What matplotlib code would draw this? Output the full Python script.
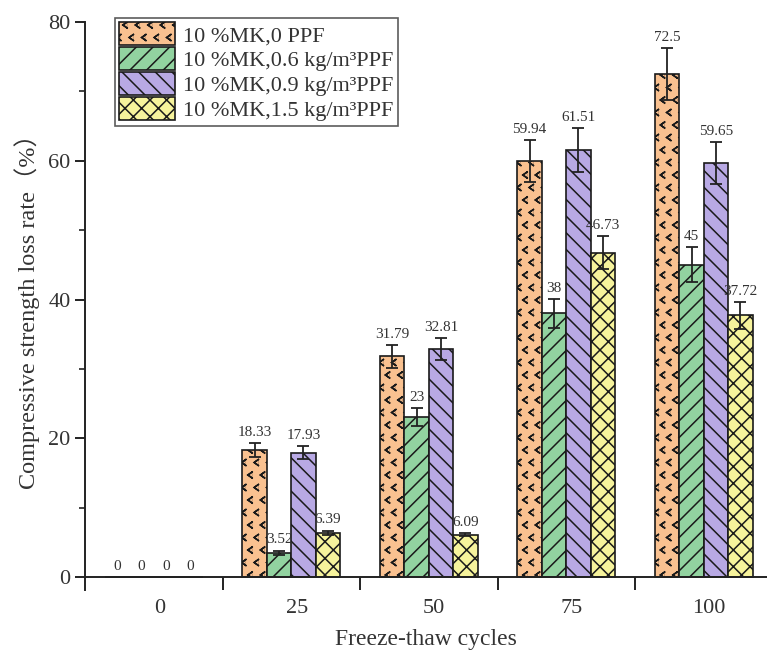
import numpy as np
import matplotlib
matplotlib.use('Agg')
import matplotlib.pyplot as plt
import matplotlib.hatch as mhatch
from matplotlib.path import Path
from matplotlib.ticker import FixedLocator, MultipleLocator

# data
cycles = ['0', '25', '50', '75', '100']
series = ['10 %MK,0 PPF', '10 %MK,0.6 kg/m³PPF',
          '10 %MK,0.9 kg/m³PPF', '10 %MK,1.5 kg/m³PPF']
loss_0 = [0, 18.33, 31.79, 59.94, 72.5]
loss_06 = [0, 3.52, 23, 38, 45]
loss_09 = [0, 17.93, 32.81, 61.51, 59.65]
loss_15 = [0, 6.39, 6.09, 46.73, 37.72]
err_0 = [0, 1.0, 1.6, 3.0, 3.8]
err_06 = [0, 0.3, 1.3, 2.1, 2.5]
err_09 = [0, 0.9, 1.6, 3.2, 3.0]
err_15 = [0, 0.3, 0.2, 2.4, 1.9]
labels_0 = ['0', '18.33', '31.79', '59.94', '72.5']
labels_06 = ['0', '3.52', '23', '38', '45']
labels_09 = ['0', '17.93', '32.81', '61.51', '59.65']
labels_15 = ['0', '6.39', '6.09', '46.73', '37.72']

colors = ['#F9C190', '#92D3A0', '#B8A9E4', '#F6F39C']
hatches = ['O', '//', '\\\\', 'xx']


# small "<" marks in place of the big circles hatch
class ChevronHatch(mhatch.Shapes):
    size = 0.5
    filled = False

    def __init__(self, hatch, density):
        self.num_rows = hatch.count('O') * 8
        self.shape_vertices = np.array([[0.35, 0.5], [-0.35, 0.0], [0.35, -0.5]])
        self.shape_codes = np.array([Path.MOVETO, Path.LINETO, Path.LINETO],
                                    dtype=Path.code_type)
        super().__init__(hatch, density)


i_big = mhatch._hatch_types.index(mhatch.LargeCircles)
mhatch._hatch_types[i_big] = ChevronHatch

plt.rcParams['font.family'] = ['Liberation Serif', 'Noto Sans CJK SC']
plt.rcParams['hatch.linewidth'] = 1.1
plt.rcParams['text.color'] = '#333333'

fig = plt.figure(figsize=(7.67, 6.6), dpi=100)
ax = fig.add_axes([85/767, 1 - 590/660, 1 - 85/767, (590 - 22)/660])

x = np.arange(len(cycles))
w = 0.178
all_vals = [loss_0, loss_06, loss_09, loss_15]
all_errs = [err_0, err_06, err_09, err_15]
all_labels = [labels_0, labels_06, labels_09, labels_15]

for j in range(4):
    pos = x + (j - 1.5)*w
    ax.bar(pos, all_vals[j], width=w, color=colors[j], edgecolor='#1a1a1a',
           linewidth=1.2, hatch=hatches[j], label=series[j], zorder=2)
    ax.errorbar(pos, all_vals[j], yerr=all_errs[j], fmt='none', ecolor='#222222',
                elinewidth=1.3, capsize=4.5, capthick=1.3, zorder=3)
    for k in range(len(cycles)):
        ax.annotate(all_labels[j][k], (pos[k], all_vals[j][k] + all_errs[j][k]),
                    xytext=(0, 3), textcoords='offset points', ha='center',
                    va='bottom', fontsize=11, color='#333333')

ax.set_xlim(-0.5, 4.46)
ax.set_ylim(-1.87, 80)

ax.spines['top'].set_visible(False)
ax.spines['right'].set_visible(False)
ax.spines['bottom'].set_position(('data', 0))
for s in ['left', 'bottom']:
    ax.spines[s].set_linewidth(1.4)
    ax.spines[s].set_color('#222222')

ax.xaxis.set_major_locator(FixedLocator(x + 0.04))
ax.set_xticklabels(cycles)
ax.xaxis.set_minor_locator(FixedLocator(x[:-1] + 0.5))
ax.tick_params(axis='x', which='major', length=0, pad=16, labelsize=16,
               labelcolor='#333333')
ax.tick_params(axis='x', which='minor', direction='out', length=9.5, width=1.4,
               color='#222222')

ax.yaxis.set_major_locator(MultipleLocator(20))
ax.yaxis.set_minor_locator(MultipleLocator(10))
ax.tick_params(axis='y', which='major', direction='out', length=7, width=1.4,
               labelsize=16, labelcolor='#333333', color='#222222')
ax.tick_params(axis='y', which='minor', direction='out', length=4, width=1.2,
               color='#222222')

ax.set_ylabel('Compressive strength loss rate（%）', fontsize=17.5, color='#333333',
              labelpad=6)
ax.set_xlabel('Freeze-thaw cycles', fontsize=17, color='#333333', labelpad=8)

leg = ax.legend(loc='upper left', bbox_to_anchor=(0.044, 1.007), borderaxespad=0,
                fontsize=16, frameon=True, fancybox=False, handlelength=2.5,
                handleheight=1.2, labelspacing=0.05, borderpad=0.2,
                handletextpad=0.35)
leg.get_frame().set_edgecolor('#333333')
leg.get_frame().set_linewidth(1.2)

fig.savefig('out.png', dpi=100)
